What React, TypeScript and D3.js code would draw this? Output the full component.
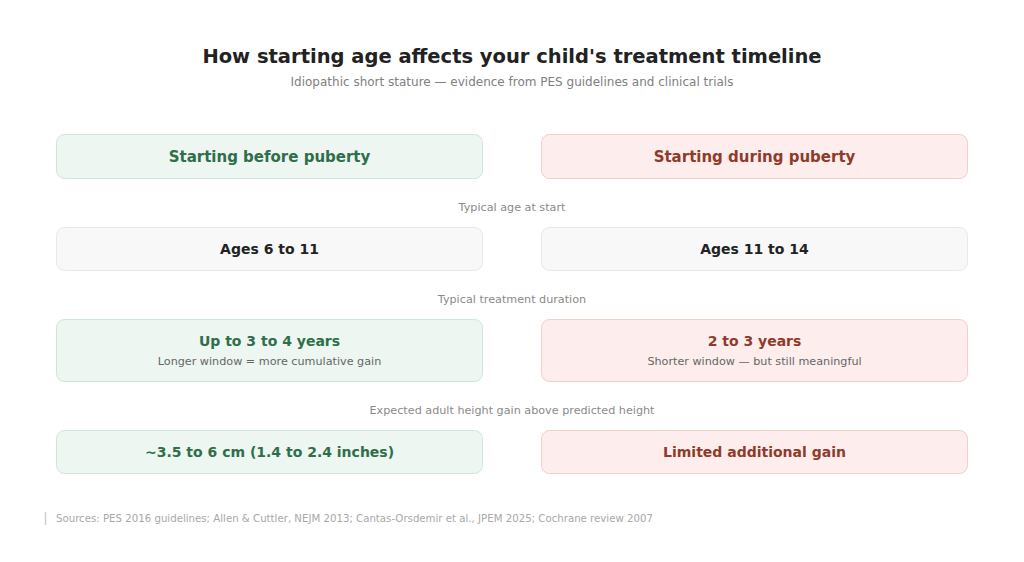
import React from 'react';
import * as d3 from 'd3';

const W = 1024;
const H = 562;

const title = "How starting age affects your child's treatment timeline";
const subtitle = 'Idiopathic short stature — evidence from PES guidelines and clinical trials';
const sources = 'Sources: PES 2016 guidelines; Allen & Cuttler, NEJM 2013; Cantas-Orsdemir et al., JPEM 2025; Cochrane review 2007';

const columns = ['Starting before puberty', 'Starting during puberty'];
const rowLabels = ['Typical age at start', 'Typical treatment duration', 'Expected adult height gain above predicted height'];
const beforeValues = ['Ages 6 to 11', 'Up to 3 to 4 years', '~3.5 to 6 cm (1.4 to 2.4 inches)'];
const beforeNotes = ['', 'Longer window = more cumulative gain', ''];
const duringValues = ['Ages 11 to 14', '2 to 3 years', 'Limited additional gain'];
const duringNotes = ['', 'Shorter window — but still meaningful', ''];
// first data row is neutral, the rest take the column colour
const rowTone = ['neutral', 'column', 'column'];

const palette = {
  before: { fill: '#edf6f0', stroke: '#cde7d5', text: '#2f6e4a' },
  during: { fill: '#fdeeed', stroke: '#f1cfca', text: '#8e3b2c' },
  neutral: { fill: '#f8f8f8', stroke: '#e8e8e8', text: '#222222' },
};

const font = "'DejaVu Sans', Verdana, sans-serif";

const App: React.FC = () => {
  const x = d3.scaleBand<string>().domain(columns).range([56, 968]).paddingInner(58 / 485);

  // vertical layout: header card, then label + card per row
  const headerY = 134;
  const headerH = 45;
  const cardH = (i: number) => (beforeNotes[i] || duringNotes[i] ? 63 : 44);
  const rows: { labelY: number; y: number; h: number }[] = [];
  let cursor = headerY + headerH;
  rowLabels.forEach((_, i) => {
    const labelY = cursor + 28;
    const y = labelY + 20;
    rows.push({ labelY, y, h: cardH(i) });
    cursor = y + cardH(i);
  });

  const colValues = [beforeValues, duringValues];
  const colNotes = [beforeNotes, duringNotes];
  const colTheme = [palette.before, palette.during];

  return (
    <svg
      width={W}
      height={H}
      style={{ position: 'fixed', left: 0, top: 0, background: '#fff', fontFamily: font }}
    >
      <text x={W / 2} y={63} textAnchor="middle" fontSize={19.5} fontWeight="bold" fill="#222">
        {title}
      </text>
      <text x={W / 2} y={86} textAnchor="middle" fontSize={12} fill="#808080">
        {subtitle}
      </text>

      {columns.map((c, ci) => (
        <g key={c}>
          <rect
            x={x(c)! + 0.5}
            y={headerY + 0.5}
            width={x.bandwidth() - 1}
            height={headerH - 1}
            rx={8}
            fill={colTheme[ci].fill}
            stroke={colTheme[ci].stroke}
          />
          <text
            x={x(c)! + x.bandwidth() / 2}
            y={headerY + headerH / 2 + 5.5}
            textAnchor="middle"
            fontSize={15}
            fontWeight="bold"
            fill={colTheme[ci].text}
          >
            {c}
          </text>
        </g>
      ))}

      {rowLabels.map((label, ri) => {
        const r = rows[ri];
        return (
          <g key={label}>
            <text x={W / 2} y={r.labelY + 4} textAnchor="middle" fontSize={11.2} fill="#8a8a8a">
              {label}
            </text>
            {columns.map((c, ci) => {
              const theme = rowTone[ri] === 'neutral' ? palette.neutral : colTheme[ci];
              const note = colNotes[ci][ri];
              const cx = x(c)! + x.bandwidth() / 2;
              return (
                <g key={c}>
                  <rect
                    x={x(c)! + 0.5}
                    y={r.y + 0.5}
                    width={x.bandwidth() - 1}
                    height={r.h - 1}
                    rx={8}
                    fill={theme.fill}
                    stroke={theme.stroke}
                  />
                  <text
                    x={cx}
                    y={note ? r.y + 27 : r.y + r.h / 2 + 5}
                    textAnchor="middle"
                    fontSize={14}
                    fontWeight="bold"
                    fill={theme.text}
                  >
                    {colValues[ci][ri]}
                  </text>
                  {note && (
                    <text x={cx} y={r.y + 46} textAnchor="middle" fontSize={11.2} fill="#666">
                      {note}
                    </text>
                  )}
                </g>
              );
            })}
          </g>
        );
      })}

      <line x1={45.5} x2={45.5} y1={512} y2={525} stroke="#d0d0d0" strokeWidth={1.5} />
      <text x={56} y={522} fontSize={10.2} fill="#a8a8a8">
        {sources}
      </text>
    </svg>
  );
};

export default App;
